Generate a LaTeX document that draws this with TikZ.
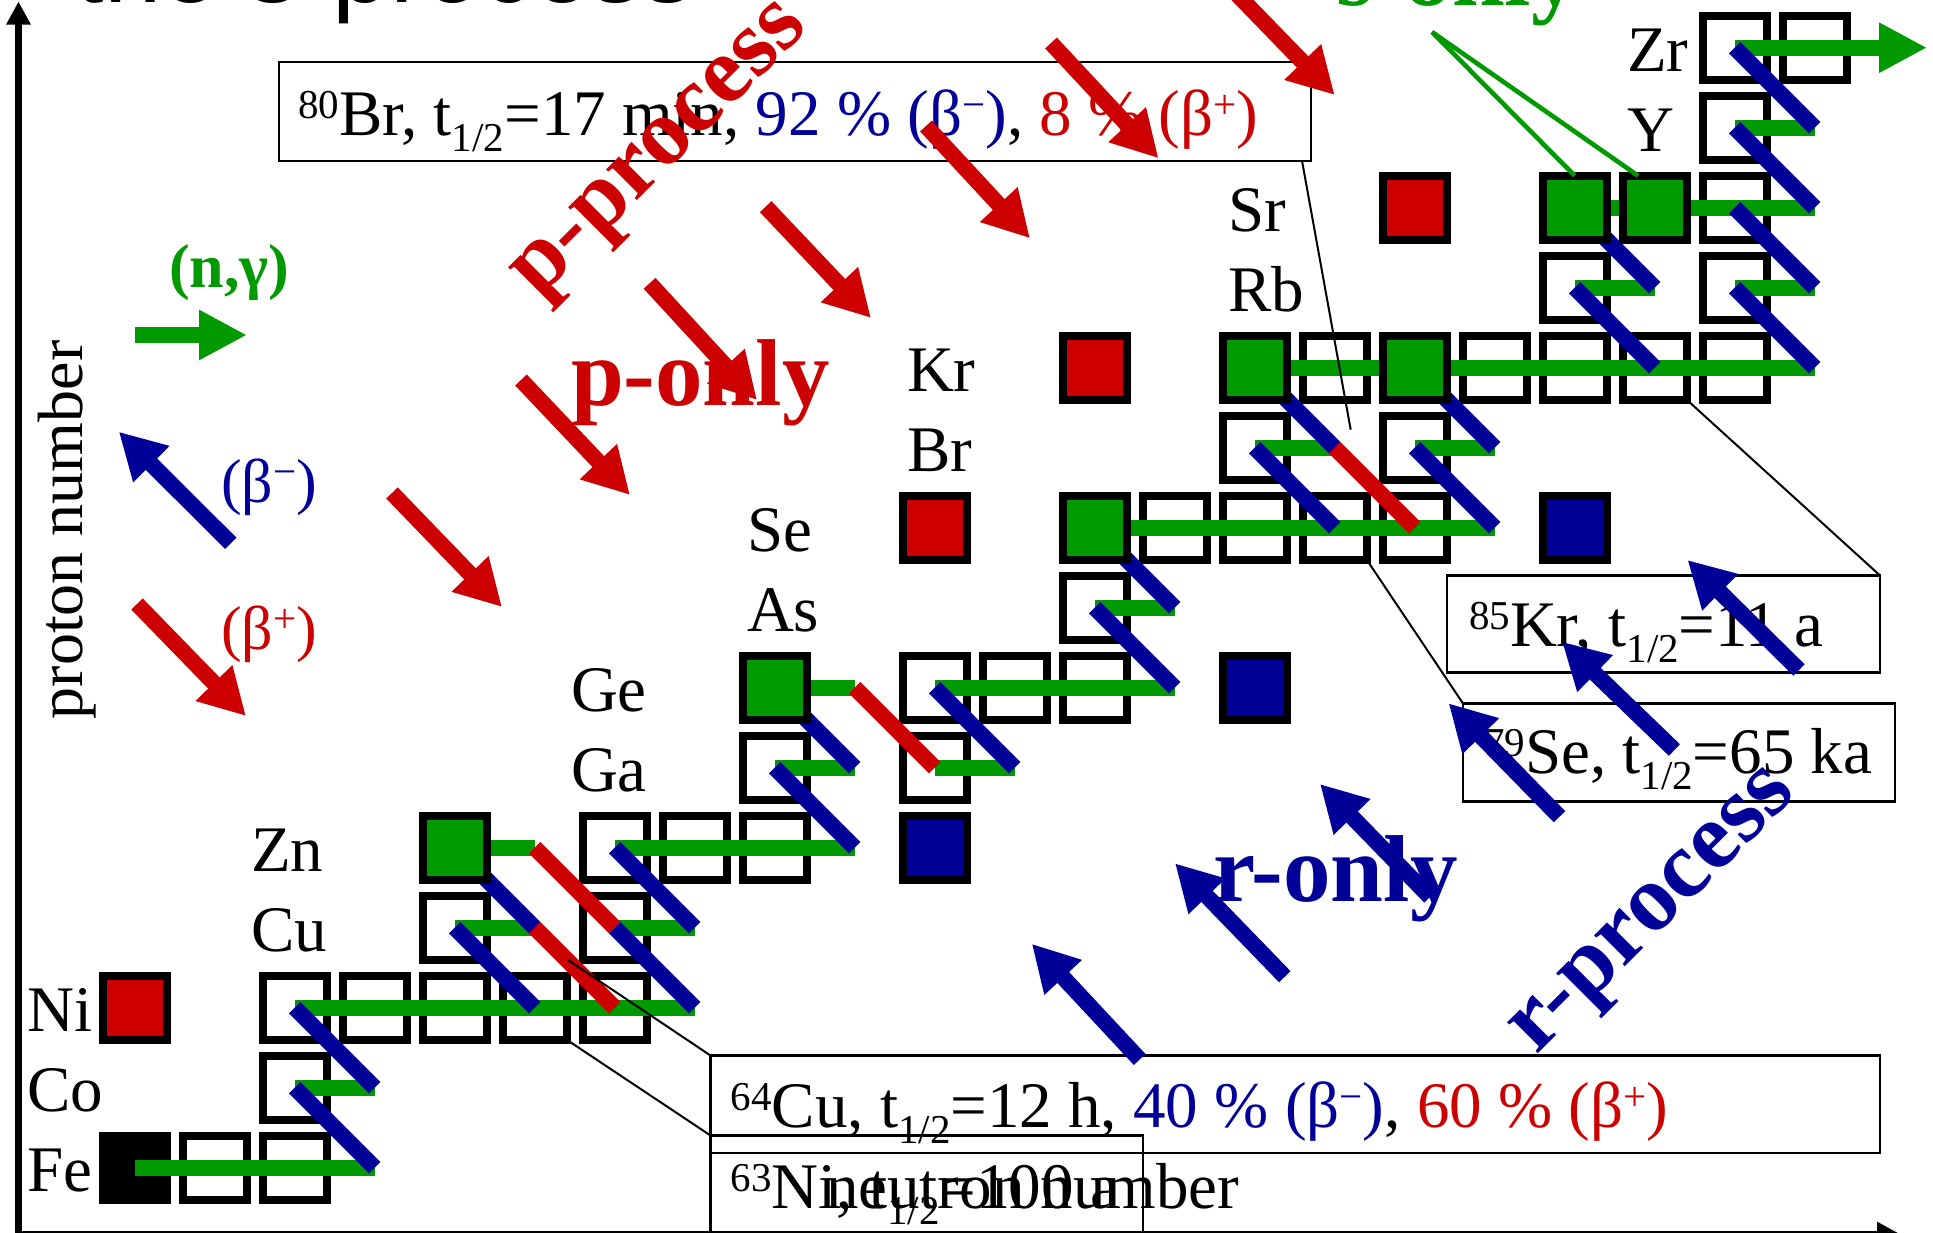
\documentclass[tikz,border=0pt]{standalone}
\usepackage{fontspec}
\setmainfont{Liberation Serif}
\newfontfamily\titlefont{Liberation Sans}
\usetikzlibrary{arrows.meta,calc}
\definecolor{sgreen}{RGB}{0,153,0}
\definecolor{pred}{RGB}{204,0,0}
\definecolor{rblue}{RGB}{0,0,153}
\newcommand{\sups}[1]{\raisebox{8.5pt}{\fontsize{20.5}{20.5}\selectfont #1}}
\newcommand{\subs}[1]{\raisebox{-8pt}{\fontsize{20.5}{20.5}\selectfont #1}}
\newcommand{\nuc}[3]{\node[#3] (n-#1-#2) at (g-#1-#2) {};}
\newcommand{\elem}[3]{\node[elem] (lab-#1) at (#2,{1191.7-80*#3}) {#1};}
\begin{document}
\begin{tikzpicture}[x=0.5pt,y=-0.5pt,
  every node/.style={inner sep=0pt,outer sep=0pt},
  nuc/.style={draw=black,line width=4pt,minimum size=32pt,fill=white},
  nucG/.style={nuc,fill=sgreen},
  nucR/.style={nuc,fill=pred},
  nucB/.style={nuc,fill=rblue},
  nucK/.style={nuc,fill=black},
  ng/.style={draw=sgreen,line width=8pt},
  bm/.style={draw=rblue,line width=8pt},
  bp/.style={draw=pred,line width=8pt},
  parrow/.style={color=pred,line width=8pt,-{Triangle[length=23pt,width=24pt]}},
  rarrow/.style={color=rblue,line width=8pt,-{Triangle[length=23pt,width=24pt]}},
  garrow/.style={color=sgreen,line width=8pt,-{Triangle[length=24pt,width=23.5pt]}},
  axis/.style={color=black,line width=3.5pt,-{Triangle[length=11.5pt,width=11.5pt]}},
  elem/.style={anchor=base west,font=\fontsize{32.5}{39}\selectfont},
  txt/.style={anchor=base west,font=\fontsize{32.5}{39}\selectfont},
  big/.style={font=\bfseries\fontsize{47.5}{55}\selectfont},
  call/.style={draw=black,line width=1pt},
  cbox/.style={draw=black,line width=1.2pt,anchor=north west},
  sline/.style={draw=sgreen,line width=2.3pt}
]
\useasboundingbox (0,0) rectangle (1933,1232);

\foreach \c in {0,...,22}{\foreach \r in {0,...,14}{
  \coordinate (g-\c-\r) at ({134.7+80*\c},{1167.7-80*\r});}}

% axes
\coordinate (origin) at (18.5,1234);
\coordinate (ytip) at (18.5,1.5);
\coordinate (xtip) at (1900,1234);
\draw[axis] (origin) -- (ytip);
\draw[axis] (origin) -- (xtip);

% title (cut at top)
\node[anchor=base west,font=\titlefont\fontsize{51.5}{60}\selectfont] (title) at (75.5,2.5) {the s-process};

% empty boxes and Fe
\nuc{0}{0}{nucK}\nuc{1}{0}{nuc}\nuc{2}{0}{nuc}
\nuc{2}{1}{nuc}
\nuc{2}{2}{nuc}\nuc{3}{2}{nuc}\nuc{4}{2}{nuc}\nuc{5}{2}{nuc}\nuc{6}{2}{nuc}
\nuc{4}{3}{nuc}\nuc{6}{3}{nuc}
\nuc{6}{4}{nuc}\nuc{7}{4}{nuc}\nuc{8}{4}{nuc}
\nuc{8}{5}{nuc}\nuc{10}{5}{nuc}
\nuc{10}{6}{nuc}\nuc{11}{6}{nuc}\nuc{12}{6}{nuc}
\nuc{12}{7}{nuc}
\nuc{13}{8}{nuc}\nuc{14}{8}{nuc}\nuc{15}{8}{nuc}\nuc{16}{8}{nuc}
\nuc{14}{9}{nuc}\nuc{16}{9}{nuc}
\nuc{15}{10}{nuc}\nuc{17}{10}{nuc}\nuc{18}{10}{nuc}\nuc{19}{10}{nuc}\nuc{20}{10}{nuc}
\nuc{18}{11}{nuc}\nuc{20}{11}{nuc}
\nuc{20}{12}{nuc}
\nuc{20}{13}{nuc}
\nuc{20}{14}{nuc}\nuc{21}{14}{nuc}

% neutron captures
\draw[ng] (g-0-0) -- (g-3-0);
\draw[ng] (g-2-1) -- (g-3-1);
\draw[ng] (g-2-2) -- (g-7-2);
\draw[ng] (g-4-3) -- (g-5-3);
\draw[ng] (g-6-3) -- (g-7-3);
\draw[ng] (g-4-4) -- (g-5-4);
\draw[ng] (g-6-4) -- (g-9-4);
\draw[ng] (g-8-5) -- (g-9-5);
\draw[ng] (g-10-5) -- (g-11-5);
\draw[ng] (g-8-6) -- (g-9-6);
\draw[ng] (g-10-6) -- (g-13-6);
\draw[ng] (g-12-7) -- (g-13-7);
\draw[ng] (g-12-8) -- (g-17-8);
\draw[ng] (g-14-9) -- (g-15-9);
\draw[ng] (g-16-9) -- (g-17-9);
\draw[ng] (g-14-10) -- (g-21-10);
\draw[ng] (g-18-11) -- (g-19-11);
\draw[ng] (g-20-11) -- (g-21-11);
\draw[ng] (g-18-12) -- (g-21-12);
\draw[ng] (g-20-13) -- (g-21-13);
\coordinate (zrtip) at (1927,47.7);
\draw[garrow] (g-20-14) -- (zrtip);

% beta- decays
\foreach \c/\r in {3/0,3/1,5/2,7/2,5/3,7/3,9/4,9/5,11/5,13/6,13/7,15/8,17/8,15/9,17/9,19/10,21/10,19/11,21/11,21/12,21/13}{
  \pgfmathtruncatemacro\cc{\c-1}\pgfmathtruncatemacro\rr{\r+1}
  \draw[bm] (g-\c-\r) -- (g-\cc-\rr);}
% beta+ decays
\draw[bp] (g-5-3) -- (g-6-2);
\draw[bp] (g-5-4) -- (g-6-3);
\draw[bp] (g-9-6) -- (g-10-5);
\draw[bp] (g-15-9) -- (g-16-8);

% coloured boxes
\nuc{0}{2}{nucR}
\nuc{4}{4}{nucG}\nuc{10}{4}{nucB}
\nuc{8}{6}{nucG}\nuc{14}{6}{nucB}
\nuc{10}{8}{nucR}\nuc{12}{8}{nucG}\nuc{18}{8}{nucB}
\nuc{12}{10}{nucR}\nuc{14}{10}{nucG}\nuc{16}{10}{nucG}
\nuc{16}{12}{nucR}\nuc{18}{12}{nucG}\nuc{19}{12}{nucG}

% element labels
\elem{Fe}{27.5}{0}\elem{Co}{27.5}{1}\elem{Ni}{27.5}{2}
\elem{Cu}{251}{3}\elem{Zn}{251}{4}
\elem{Ga}{571}{5}\elem{Ge}{571}{6}
\elem{As}{747}{7}\elem{Se}{747}{8}
\elem{Br}{907}{9}\elem{Kr}{907}{10}
\elem{Rb}{1228}{11}\elem{Sr}{1228}{12}
\elem{Y}{1627}{13}\elem{Zr}{1627}{14}

% callout boxes
\node[cbox,minimum width=516pt,minimum height=49.4pt] (br80box) at (279,62) {};
\node[cbox,minimum width=216.5pt,minimum height=48.5pt] (kr85box) at (1447,575.5) {};
\node[cbox,minimum width=216pt,minimum height=49pt] (se79box) at (1463,703.5) {};
\node[cbox,minimum width=584.75pt,minimum height=48.75pt] (cu64box) at (710.5,1055.5) {};
\node[cbox,minimum width=216.25pt,minimum height=55pt] (ni63box) at (710.5,1135.5) {};

\node[txt] (br80txt) at (298,135) {\sups{80}Br, t\subs{1/2}=17 min, {\color{rblue}92 \% (β\sups{−})}, {\color{pred}8 \% (β\sups{+})}};
\node[txt] (kr85txt) at (1469,646.5) {\sups{85}Kr, t\subs{1/2}=11 a};
\node[txt] (se79txt) at (1484,773.3) {\sups{79}Se, t\subs{1/2}=65 ka};
\node[txt] (cu64txt) at (730.7,1127) {\sups{64}Cu, t\subs{1/2}=12 h, {\color{rblue}40 \% (β\sups{−})}, {\color{pred}60 \% (β\sups{+})}};
\node[txt] (ni63txt) at (730.7,1208) {\sups{63}Ni, t\subs{1/2}=100 a};

% callout lines
\draw[call] ($(br80box.south east)+(-9,0)$) -- ($(g-15-9)+(16,-18)$);
\draw[call] (n-19-10.south east) -- (kr85box.north east);
\draw[call] (n-15-8.south east) -- (se79box.north west);
\draw[call] ($(g-5-3)+(33.3,32.3)$) -- (cu64box.north west);
\draw[call] (n-5-2.south east) -- (ni63box.north west);

% axis labels
\node[txt] (nlabel) at (826,1208) {neutron number};
\node[rotate=90,anchor=base,font=\fontsize{32}{38}\selectfont] (plabel) at (82,530) {proton number};

% legend
\coordinate (ngtail) at (135,335);
\coordinate (nghead) at (247,335);
\draw[garrow] (ngtail) -- (nghead);
\node[anchor=base west,text=sgreen,font=\bfseries\fontsize{31}{37}\selectfont] (nglab) at (169,287) {(n,γ)};
\coordinate (bltail) at (230.8,543.3);
\coordinate (blhead) at (118.8,431.7);
\draw[rarrow] (bltail) -- (blhead);
\node[anchor=base west,text=rblue,font=\fontsize{31}{37}\selectfont] (bmlab) at (221,502) {(β\sups{−})};
\coordinate (rltail) at (137,604);
\coordinate (rlhead) at (246,716);
\draw[parrow] (rltail) -- (rlhead);
\node[anchor=base west,text=pred,font=\fontsize{31}{37}\selectfont] (bplab) at (221,649) {(β\sups{+})};

% p-process arrows
\foreach \i/\tx/\ty/\hx/\hy in {2/392/493/502/607,3/521/380/630/495,4/649.6/283.3/757/400,5/765.7/206.7/871/318,6/926/126/1030/238.3,7/1051/43/1158.5/158.3,8/1225/-18/1334.7/95}{
  \coordinate (pt\i) at (\tx,\ty);
  \coordinate (ph\i) at (\hx,\hy);
  \draw[parrow] (pt\i) -- (ph\i);}
% r-process arrows
\foreach \i/\tx/\ty/\hx/\hy in {2/1139.7/1059.5/1031.8/943.8,3/1284.8/976.7/1175/863.3,4/1430/897/1320/784,5/1559.5/816.7/1448.6/703.3,6/1674.4/750/1562/641.7,7/1799/670/1687.5/560}{
  \coordinate (rt\i) at (\tx,\ty);
  \coordinate (rh\i) at (\hx,\hy);
  \draw[rarrow] (rt\i) -- (rh\i);}

% big labels
\node[big,anchor=base west,text=pred] (ponly) at (571,405) {p-only};
\node[big,anchor=base west,text=rblue] (ronly) at (1213,901.7) {r-only};
\node[big,anchor=base west,text=sgreen] (sonly) at (1336,5) {s-only};
\node[big,anchor=base,rotate=45,text=pred] (pproc) at (674,164) {p-process};
\node[big,anchor=base,rotate=45,text=rblue] (rproc) at (1667,925) {r-process};

% s-only pointers
\coordinate (sopt) at (1432,32);
\draw[sline] (sopt) -- (n-18-12.north);
\draw[sline] (sopt) -- ($(n-19-12.north)+(-16.7,0)$);
\end{tikzpicture}
\end{document}
